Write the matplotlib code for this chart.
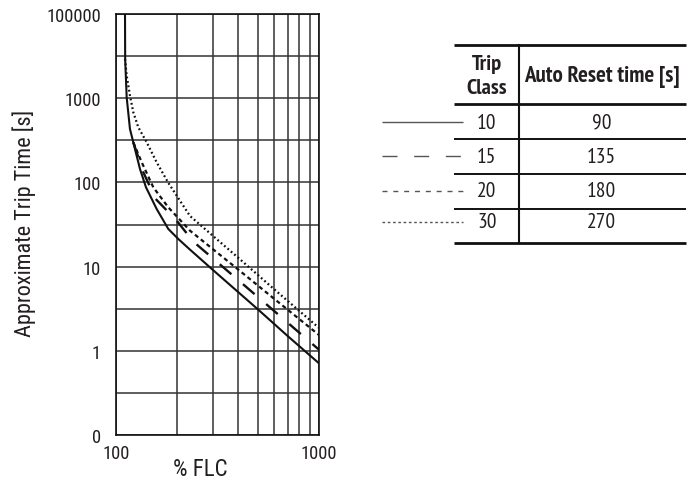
import matplotlib
matplotlib.use("Agg")
import matplotlib.pyplot as plt
from matplotlib import font_manager
from matplotlib.ticker import FixedLocator, NullFormatter, FixedFormatter

# ---------------- data ----------------
pct_10 = [110.4, 110.6, 112.5, 116.8, 121.3, 130.9, 140.1, 158.2, 180.5, 202.2, 231, 300, 500, 700, 1000]
t_10 = [10000, 2924, 1026, 430, 299, 144, 87.5, 48.3, 28.0, 21.3, 15.9, 9.1, 3.1, 1.5, 0.71]

pct_15 = [121.3, 126.1, 135.9, 156.5, 198.6, 239.9, 400, 600, 1000]
t_15 = [299, 227, 132, 63.5, 35.1, 19.8, 6.9, 2.98, 1.03]

pct_20 = [121.3, 133.5, 152.2, 180.5, 231, 400, 600, 1000]
t_20 = [299, 173, 87.5, 50.6, 26.7, 9.2, 4.16, 1.54]

pct_30 = [110.4, 112.5, 116.8, 121.3, 128.4, 141.3, 158.2, 180, 198.6, 231, 400, 600, 1000]
t_30 = [2924, 1849, 1072, 681, 451, 299, 173, 100, 69.5, 39.9, 12.7, 5.4, 1.87]

trip_classes = ["10", "15", "20", "30"]
reset_times = ["90", "135", "180", "270"]

y_tick_values = [0.1, 1, 10, 100, 1000, 10000]
y_tick_labels = ["0", "1", "10", "100", "1000", "100000"]
x_tick_values = [100, 1000]
x_tick_labels = ["100", "1000"]
x_grid_values = [200, 300, 400, 500, 600, 700, 800, 900]
y_grid_values = [0.316, 3.16, 31.6, 316, 3162]

# ---------------- fonts ----------------
def pick(names):
    for n in names:
        try:
            font_manager.findfont(font_manager.FontProperties(family=n), fallback_to_default=False)
            return n
        except Exception:
            pass
    return "DejaVu Sans"

axis_font = pick(["Roboto Condensed", "Archivo Narrow", "Liberation Sans"])
table_font = pick(["PT Sans Narrow", "Fira Sans Condensed", "Roboto Condensed", "Liberation Sans"])
plt.rcParams['font.family'] = [axis_font, 'DejaVu Sans']
plt.rcParams['lines.scale_dashes'] = False

W, H, DPI = 688, 485, 100
fig = plt.figure(figsize=(W / DPI, H / DPI), dpi=DPI)

L, R, T, B = 116.3, 319.0, 15.0, 436.0
ax = fig.add_axes([L / W, 1 - B / H, (R - L) / W, (B - T) / H])
ax.set_xscale('log')
ax.set_yscale('log')
ax.set_xlim(100, 1000)
ax.set_ylim(0.1, 10000)

txt = '#231f20'
grid_c = '#333333'

ax.xaxis.set_major_locator(FixedLocator(x_tick_values))
ax.xaxis.set_major_formatter(FixedFormatter(x_tick_labels))
ax.xaxis.set_minor_locator(FixedLocator(x_grid_values))
ax.xaxis.set_minor_formatter(NullFormatter())
ax.yaxis.set_major_locator(FixedLocator(y_tick_values))
ax.yaxis.set_major_formatter(FixedFormatter(y_tick_labels))
ax.yaxis.set_minor_locator(FixedLocator(y_grid_values))
ax.yaxis.set_minor_formatter(NullFormatter())

ax.tick_params(which='both', length=0, colors=txt, labelsize=13.3)
ax.tick_params(axis='y', pad=11)
ax.tick_params(axis='x', pad=6.5)
ax.grid(True, which='both', color=grid_c, lw=1.1)
for s in ax.spines.values():
    s.set_color('#111111')
    s.set_linewidth(1.2)

kw = dict(color='#111111', solid_capstyle='butt', dash_capstyle='butt')
ax.plot(pct_10, t_10, lw=1.5, **kw)
ax.plot(pct_15, t_15, lw=1.7, dashes=(11, 11), **kw)
ax.plot(pct_20, t_20, lw=1.6, dashes=(3.0, 2.4), **kw)
ax.plot(pct_30, t_30, lw=1.6, dashes=(1.3, 1.9), **kw)

fig.text(24 / W, 1 - 223 / H, "Approximate Trip Time [s]", rotation=90,
         ha='center', va='center', fontsize=16, color=txt)
fig.text(200 / W, 1 - 470 / H, "% FLC", ha='center', va='center', fontsize=16.5, color=txt)

# ---------------- table ----------------
tab = fig.add_axes([0, 0, 1, 1], facecolor='none')
tab.set_xlim(0, W)
tab.set_ylim(H, 0)
tab.axis('off')

tx0, tx1, tcol = 454, 686, 518.7
rule_y = [46, 105.3, 140, 175, 210, 244]
rule_w = [2.0, 2.0, 1.4, 1.4, 1.4, 2.0]
for yy, lw in zip(rule_y, rule_w):
    tab.plot([tx0, tx1], [yy, yy], color='#111111', lw=lw, solid_capstyle='butt')
tab.plot([tcol, tcol], [rule_y[0], rule_y[-1]], color='#111111', lw=1.5)

tf = [table_font, 'DejaVu Sans']
tab.text(486.7, 65, "Trip", ha='center', va='center', fontsize=16, fontweight='bold', color=txt, family=tf)
tab.text(486.7, 88.3, "Class", ha='center', va='center', fontsize=16, fontweight='bold', color=txt, family=tf)
tab.text(601.7, 76.7, "Auto Reset time [s]", ha='center', va='center', fontsize=16.5,
         fontweight='bold', color=txt, family=tf)

row_y = [123.3, 157.3, 191.7, 222.7]
styles = [dict(), dict(dashes=(10.8, 12)), dict(dashes=(3.6, 4.2)), dict(dashes=(1.9, 1.9))]
for cls, rt, yy, st in zip(trip_classes, reset_times, row_y, styles):
    tab.text(486.7, yy, cls, ha='center', va='center', fontsize=15.5, color=txt, family=tf)
    tab.text(601.7, yy, rt, ha='center', va='center', fontsize=15.5, color=txt, family=tf)
    tab.plot([381.7, 462.7], [yy, yy], color='#555555', lw=1.0,
             solid_capstyle='butt', dash_capstyle='butt', **st)

fig.savefig("out.png", dpi=DPI)
